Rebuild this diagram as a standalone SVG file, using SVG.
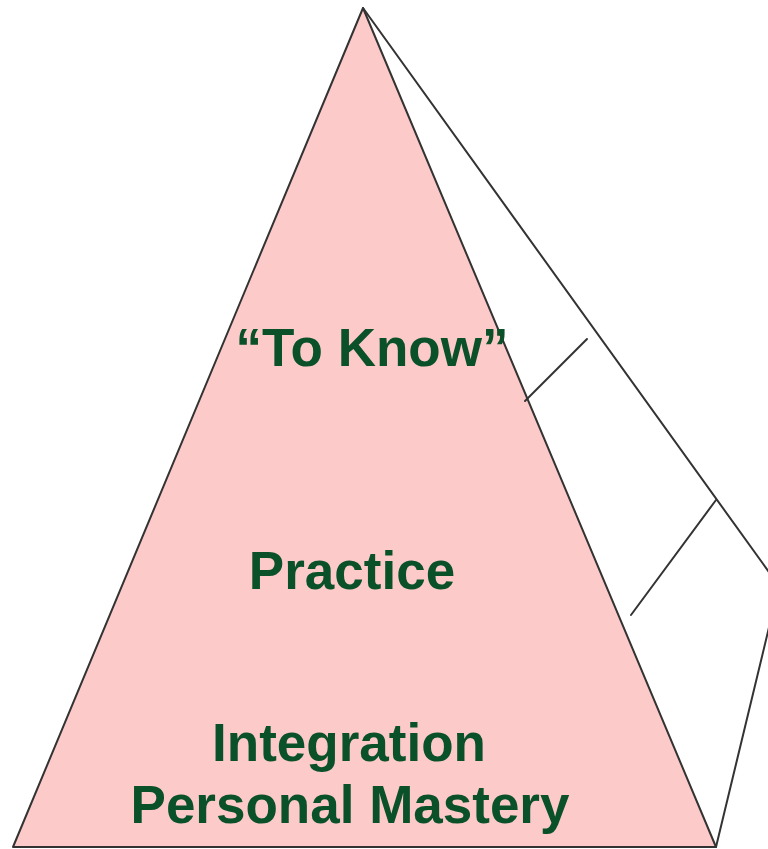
<svg xmlns="http://www.w3.org/2000/svg" width="768" height="849" viewBox="0 0 768 849">
<style>
.edge{fill:none;stroke:#333;stroke-width:2;stroke-linecap:round}
.lbl{font-family:"Liberation Sans",Arial,sans-serif;font-weight:bold;font-size:53px;fill:#0a5029;text-anchor:middle}
</style>
<rect width="768" height="849" fill="#fff"/>
<g id="back-face">
<path class="edge" d="M363,8 L779,586 L716,847"/>
</g>
<g id="pyramid">
<polygon points="363,8 716,847 13,847" fill="#fdcaca" stroke="#333" stroke-width="2" stroke-linejoin="round"/>
</g>
<g id="connectors">
<line class="edge" x1="525" y1="401" x2="587" y2="339"/>
<line class="edge" x1="631" y1="615" x2="716" y2="500"/>
</g>
<g id="to-know"><text class="lbl" x="372" y="366">“To Know”</text></g>
<g id="practice"><text class="lbl" x="352" y="589">Practice</text></g>
<g id="integration"><text class="lbl" x="349" y="761">Integration</text></g>
<g id="personal-mastery"><text class="lbl" x="350" y="823">Personal Mastery</text></g>
</svg>
